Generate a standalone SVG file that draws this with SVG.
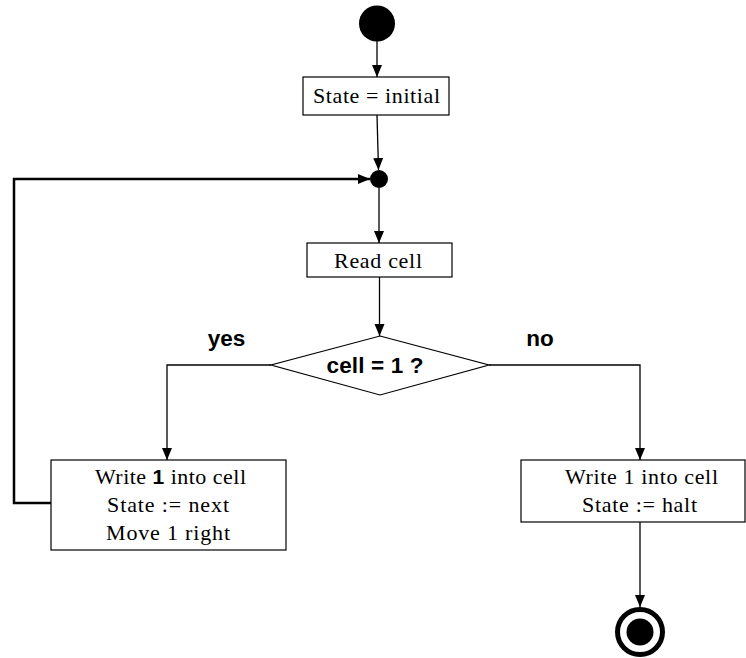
<svg xmlns="http://www.w3.org/2000/svg" width="746" height="658" viewBox="0 0 746 658">
  <defs>
    <marker id="arr" markerUnits="userSpaceOnUse" markerWidth="12" markerHeight="12" viewBox="0 0 12 12" refX="12" refY="6" orient="auto">
      <path d="M0,1 L12,6 L0,11 Z" fill="#000"/>
    </marker>
    <style>
      .box { fill: #fff; stroke: #000; stroke-width: 1.2; }
      .ln { fill: none; stroke: #000; stroke-width: 1.3; }
      .thick { fill: none; stroke: #000; stroke-width: 2.5; }
      .t { font-family: "Liberation Serif", "Times New Roman", serif; font-size: 22px; fill: #000; text-anchor: middle; }
      .b { font-family: "Liberation Sans", Arial, sans-serif; font-weight: bold; fill: #000; }
    </style>
  </defs>
  <rect width="746" height="658" fill="#fff"/>

  <g id="connectors">
    <line class="ln" x1="377" y1="41" x2="377" y2="77" marker-end="url(#arr)"/>
    <line class="ln" x1="377" y1="115" x2="378.5" y2="170" marker-end="url(#arr)"/>
    <polyline class="thick" points="51,503 14,503 14,179 370,179" marker-end="url(#arr)"/>
    <line class="ln" x1="379" y1="188" x2="379" y2="243" marker-end="url(#arr)"/>
    <line class="ln" x1="379.5" y1="277" x2="379.5" y2="336" marker-end="url(#arr)"/>
    <polyline class="ln" points="271,365 167,365 167,460" marker-end="url(#arr)"/>
    <polyline class="ln" points="489,365 640,365 640,460" marker-end="url(#arr)"/>
    <line class="ln" x1="640" y1="522" x2="640" y2="607" marker-end="url(#arr)"/>
  </g>

  <g id="start">
    <circle cx="377" cy="23.5" r="18" fill="#000"/>
  </g>

  <g id="init">
    <rect class="box" x="303" y="77" width="146" height="38"/>
    <text class="t" x="376.5" y="103" textLength="127" lengthAdjust="spacing">State = initial</text>
  </g>

  <g id="merge">
    <circle cx="379" cy="179" r="9" fill="#000"/>
  </g>

  <g id="read">
    <rect class="box" x="307" y="243" width="145" height="34"/>
    <text class="t" x="378" y="268" textLength="88" lengthAdjust="spacing">Read cell</text>
  </g>

  <g id="decision">
    <polygon class="box" points="380,336 489,365 380,395 271,365"/>
    <text class="b" x="375" y="373" font-size="22.5" text-anchor="middle" textLength="97" lengthAdjust="spacing">cell = 1 ?</text>
  </g>

  <g id="labels">
    <text class="b" x="226.5" y="346" font-size="22.5" text-anchor="middle">yes</text>
    <text class="b" x="540" y="346" font-size="22.5" text-anchor="middle">no</text>
  </g>

  <g id="write-next">
    <rect class="box" x="51" y="460" width="235" height="90"/>
    <text class="t" x="170.5" y="484" textLength="151" lengthAdjust="spacing">Write <tspan class="b" font-size="21">1</tspan> into cell</text>
    <text class="t" x="168" y="512" textLength="122" lengthAdjust="spacing">State := next</text>
    <text class="t" x="168" y="540" textLength="124" lengthAdjust="spacing">Move 1 right</text>
  </g>

  <g id="write-halt">
    <rect class="box" x="521" y="460" width="224" height="62"/>
    <text class="t" x="641.5" y="484" textLength="153" lengthAdjust="spacing">Write 1 into cell</text>
    <text class="t" x="639.5" y="512" textLength="115" lengthAdjust="spacing">State := halt</text>
  </g>

  <g id="end">
    <circle cx="640" cy="632" r="22.5" fill="none" stroke="#000" stroke-width="5"/>
    <circle cx="640" cy="632" r="13.5" fill="#000"/>
  </g>
</svg>
